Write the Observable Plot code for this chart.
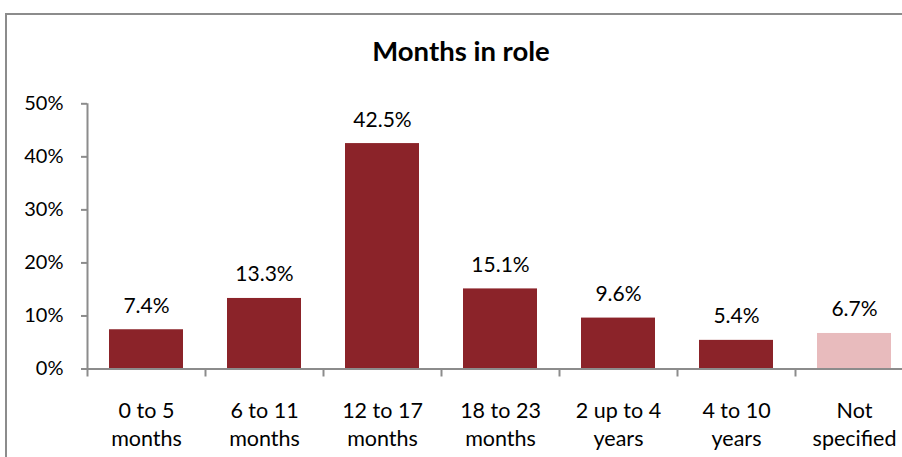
<!DOCTYPE html>
<html>
<head>
<meta charset="utf-8">
<script src="https://cdn.jsdelivr.net/npm/d3@7"></script>
<script src="https://cdn.jsdelivr.net/npm/@observablehq/plot@0.6"></script>
<style>
  html, body { margin: 0; padding: 0; background: #fff; overflow: hidden; }
  #wrap { position: relative; width: 902px; height: 457px; overflow: hidden; font-family: Lato, "Open Sans", sans-serif; }
  #border { position: absolute; left: 5px; top: 13px; width: 1200px; height: 1200px; border-left: 2px solid #8c8c8c; border-top: 2px solid #8c8c8c; }
  #title { position: absolute; left: 461px; top: 34px; transform: translateX(-50%); font-size: 27.5px; line-height: 1.2; font-weight: bold; color: #000; white-space: nowrap; }
  #chart { position: absolute; left: 0; top: 0; }
</style>
</head>
<body>
<div id="wrap">
  <div id="border"></div>
  <div id="chart"></div>
  <div id="title">Months in role</div>
</div>
<script>
const categories = ["0 to 5\nmonths", "6 to 11\nmonths", "12 to 17\nmonths", "18 to 23\nmonths", "2 up to 4\nyears", "4 to 10\nyears", "Not\nspecified"];
const values = [0.074, 0.133, 0.425, 0.151, 0.096, 0.054, 0.067];
const barColors = ["#8b2329", "#8b2329", "#8b2329", "#8b2329", "#8b2329", "#8b2329", "#e8bbbd"];
const yTicks = [0, 0.1, 0.2, 0.3, 0.4, 0.5];

const data = categories.map((c, i) => ({cat: c, value: values[i], color: barColors[i]}));

const mLeft = 87, mRight = -11, mTop = 103.3, mBottom = 88.5;
const step = (902 - mRight - mLeft) / categories.length;

const plot = Plot.plot({
  width: 902,
  height: 457,
  marginLeft: mLeft,
  marginRight: mRight,
  marginTop: mTop,
  marginBottom: mBottom,
  style: {fontFamily: "Lato, 'Open Sans', sans-serif", background: "transparent", color: "#000", overflow: "visible"},
  x: {domain: categories, paddingInner: 0.375, paddingOuter: 0.1875, align: 0.5},
  y: {domain: [0, 0.5]},
  color: {type: "identity"},
  marks: [
    Plot.barY(data, {x: "cat", y: "value", fill: "color"}),
    Plot.text(data, {x: "cat", y: "value", text: d => d3.format(".1%")(d.value), dy: -17, lineAnchor: "bottom", fontSize: 21, fill: "#000"}),
    Plot.ruleY([0], {stroke: "#8c8c8c", strokeWidth: 2}),
    Plot.ruleX([categories[0]], {y1: 0, y2: 0.5, dx: -step / 2, stroke: "#8c8c8c", strokeWidth: 2}),
    Plot.axisY({ticks: yTicks, tickFormat: d3.format(".0%"), tickSize: 6, tickPadding: 18, fontSize: 20, stroke: "#8c8c8c", strokeWidth: 2, fill: "#000", label: null}),
    Plot.axisX({tickSize: 8, text: null, dx: -step / 2, stroke: "#8c8c8c", strokeWidth: 2, label: null}),
    Plot.axisX({tickSize: 0, tickPadding: 30, fontSize: 21.5, lineHeight: 1.27, fill: "#000", label: null})
  ]
});
document.getElementById("chart").appendChild(plot);
</script>
</body>
</html>
